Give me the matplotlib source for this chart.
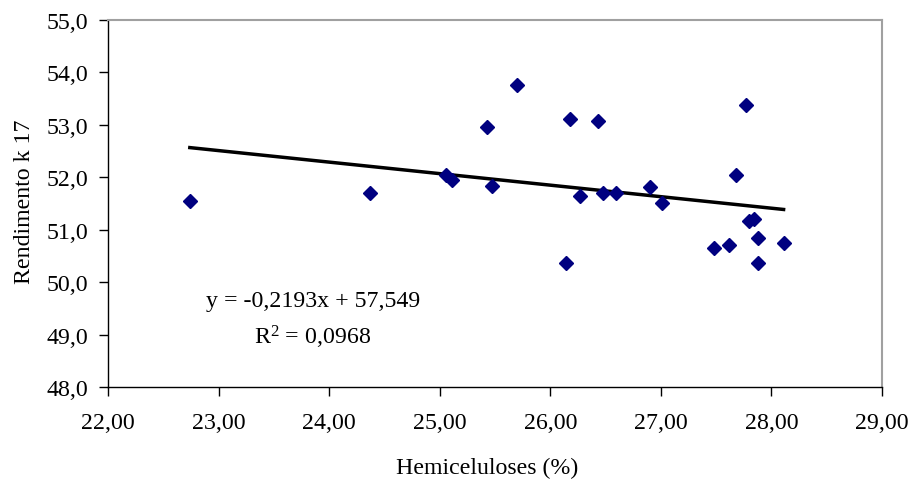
import numpy as np
import matplotlib
matplotlib.use("Agg")
import matplotlib.pyplot as plt
from matplotlib.ticker import FuncFormatter

plt.rcParams['font.family'] = ['Liberation Serif', 'DejaVu Serif']
plt.rcParams['mathtext.fontset'] = 'custom'
plt.rcParams['mathtext.rm'] = 'Liberation Serif'
plt.rcParams['mathtext.it'] = 'Liberation Serif:italic'
plt.rcParams['mathtext.bf'] = 'Liberation Serif:bold'

# hemicelluloses (%) vs yield
hemi = [22.74, 24.37, 25.06, 25.11, 25.43, 25.47, 25.70, 26.14, 26.18, 26.27,
        26.43, 26.48, 26.59, 26.90, 27.01, 27.48, 27.62, 27.68, 27.77, 27.80,
        27.84, 27.88, 27.88, 28.11]
rend = [51.54, 51.69, 52.04, 51.94, 52.95, 51.83, 53.75, 50.36, 53.10, 51.65,
        53.07, 51.69, 51.69, 51.81, 51.50, 50.66, 50.70, 52.04, 53.37, 51.16,
        51.20, 50.85, 50.36, 50.74]

slope = -0.2193
intercept = 57.549
eq_text = "y = -0,2193x + 57,549"
r2_text = r"R$^\mathrm{2}$ = 0,0968"

FS = 17.2

fig = plt.figure(figsize=(9.15, 4.85), dpi=100)
ax = fig.add_axes([108 / 915, 1 - 388.3 / 485, 774 / 915, 367.8 / 485])

ax.plot(hemi, rend, linestyle='none', marker='D', markersize=7,
        color='#000080', zorder=3)

xfit = np.array([min(hemi), max(hemi)])
ax.plot(xfit, slope * xfit + intercept, color='black', linewidth=2.5, zorder=2)

ax.set_xlim(22, 29)
ax.set_ylim(48, 55)
ax.set_xticks(np.arange(22, 29.5, 1))
ax.set_yticks(np.arange(48, 55.5, 1))
ax.xaxis.set_major_formatter(FuncFormatter(lambda v, p: f"{v:.2f}".replace('.', ',')))
ax.yaxis.set_major_formatter(FuncFormatter(lambda v, p: f"{v:.1f}".replace('.', ',')))
ax.tick_params(direction='out', length=6.5, width=1, labelsize=FS, colors='black')
ax.tick_params(axis='x', pad=11)
ax.tick_params(axis='y', pad=8)

for side in ['left', 'bottom']:
    ax.spines[side].set_color('black')
    ax.spines[side].set_linewidth(1)
for side in ['top', 'right']:
    ax.spines[side].set_color('#a0a0a0')
    ax.spines[side].set_linewidth(1.5)

fig.text(487 / 915, 1 - 468 / 485, "Hemiceluloses (%)", ha='center', va='center', fontsize=FS)
fig.text(25 / 915, 1 - 202 / 485, "Rendimento k 17", ha='center', va='center',
         rotation=90, fontsize=FS)
fig.text(313 / 915, 1 - 301 / 485, eq_text, ha='center', va='center', fontsize=FS)
fig.text(313 / 915, 1 - 337 / 485, r2_text, ha='center', va='center', fontsize=FS)

fig.savefig("out.png", dpi=100)
